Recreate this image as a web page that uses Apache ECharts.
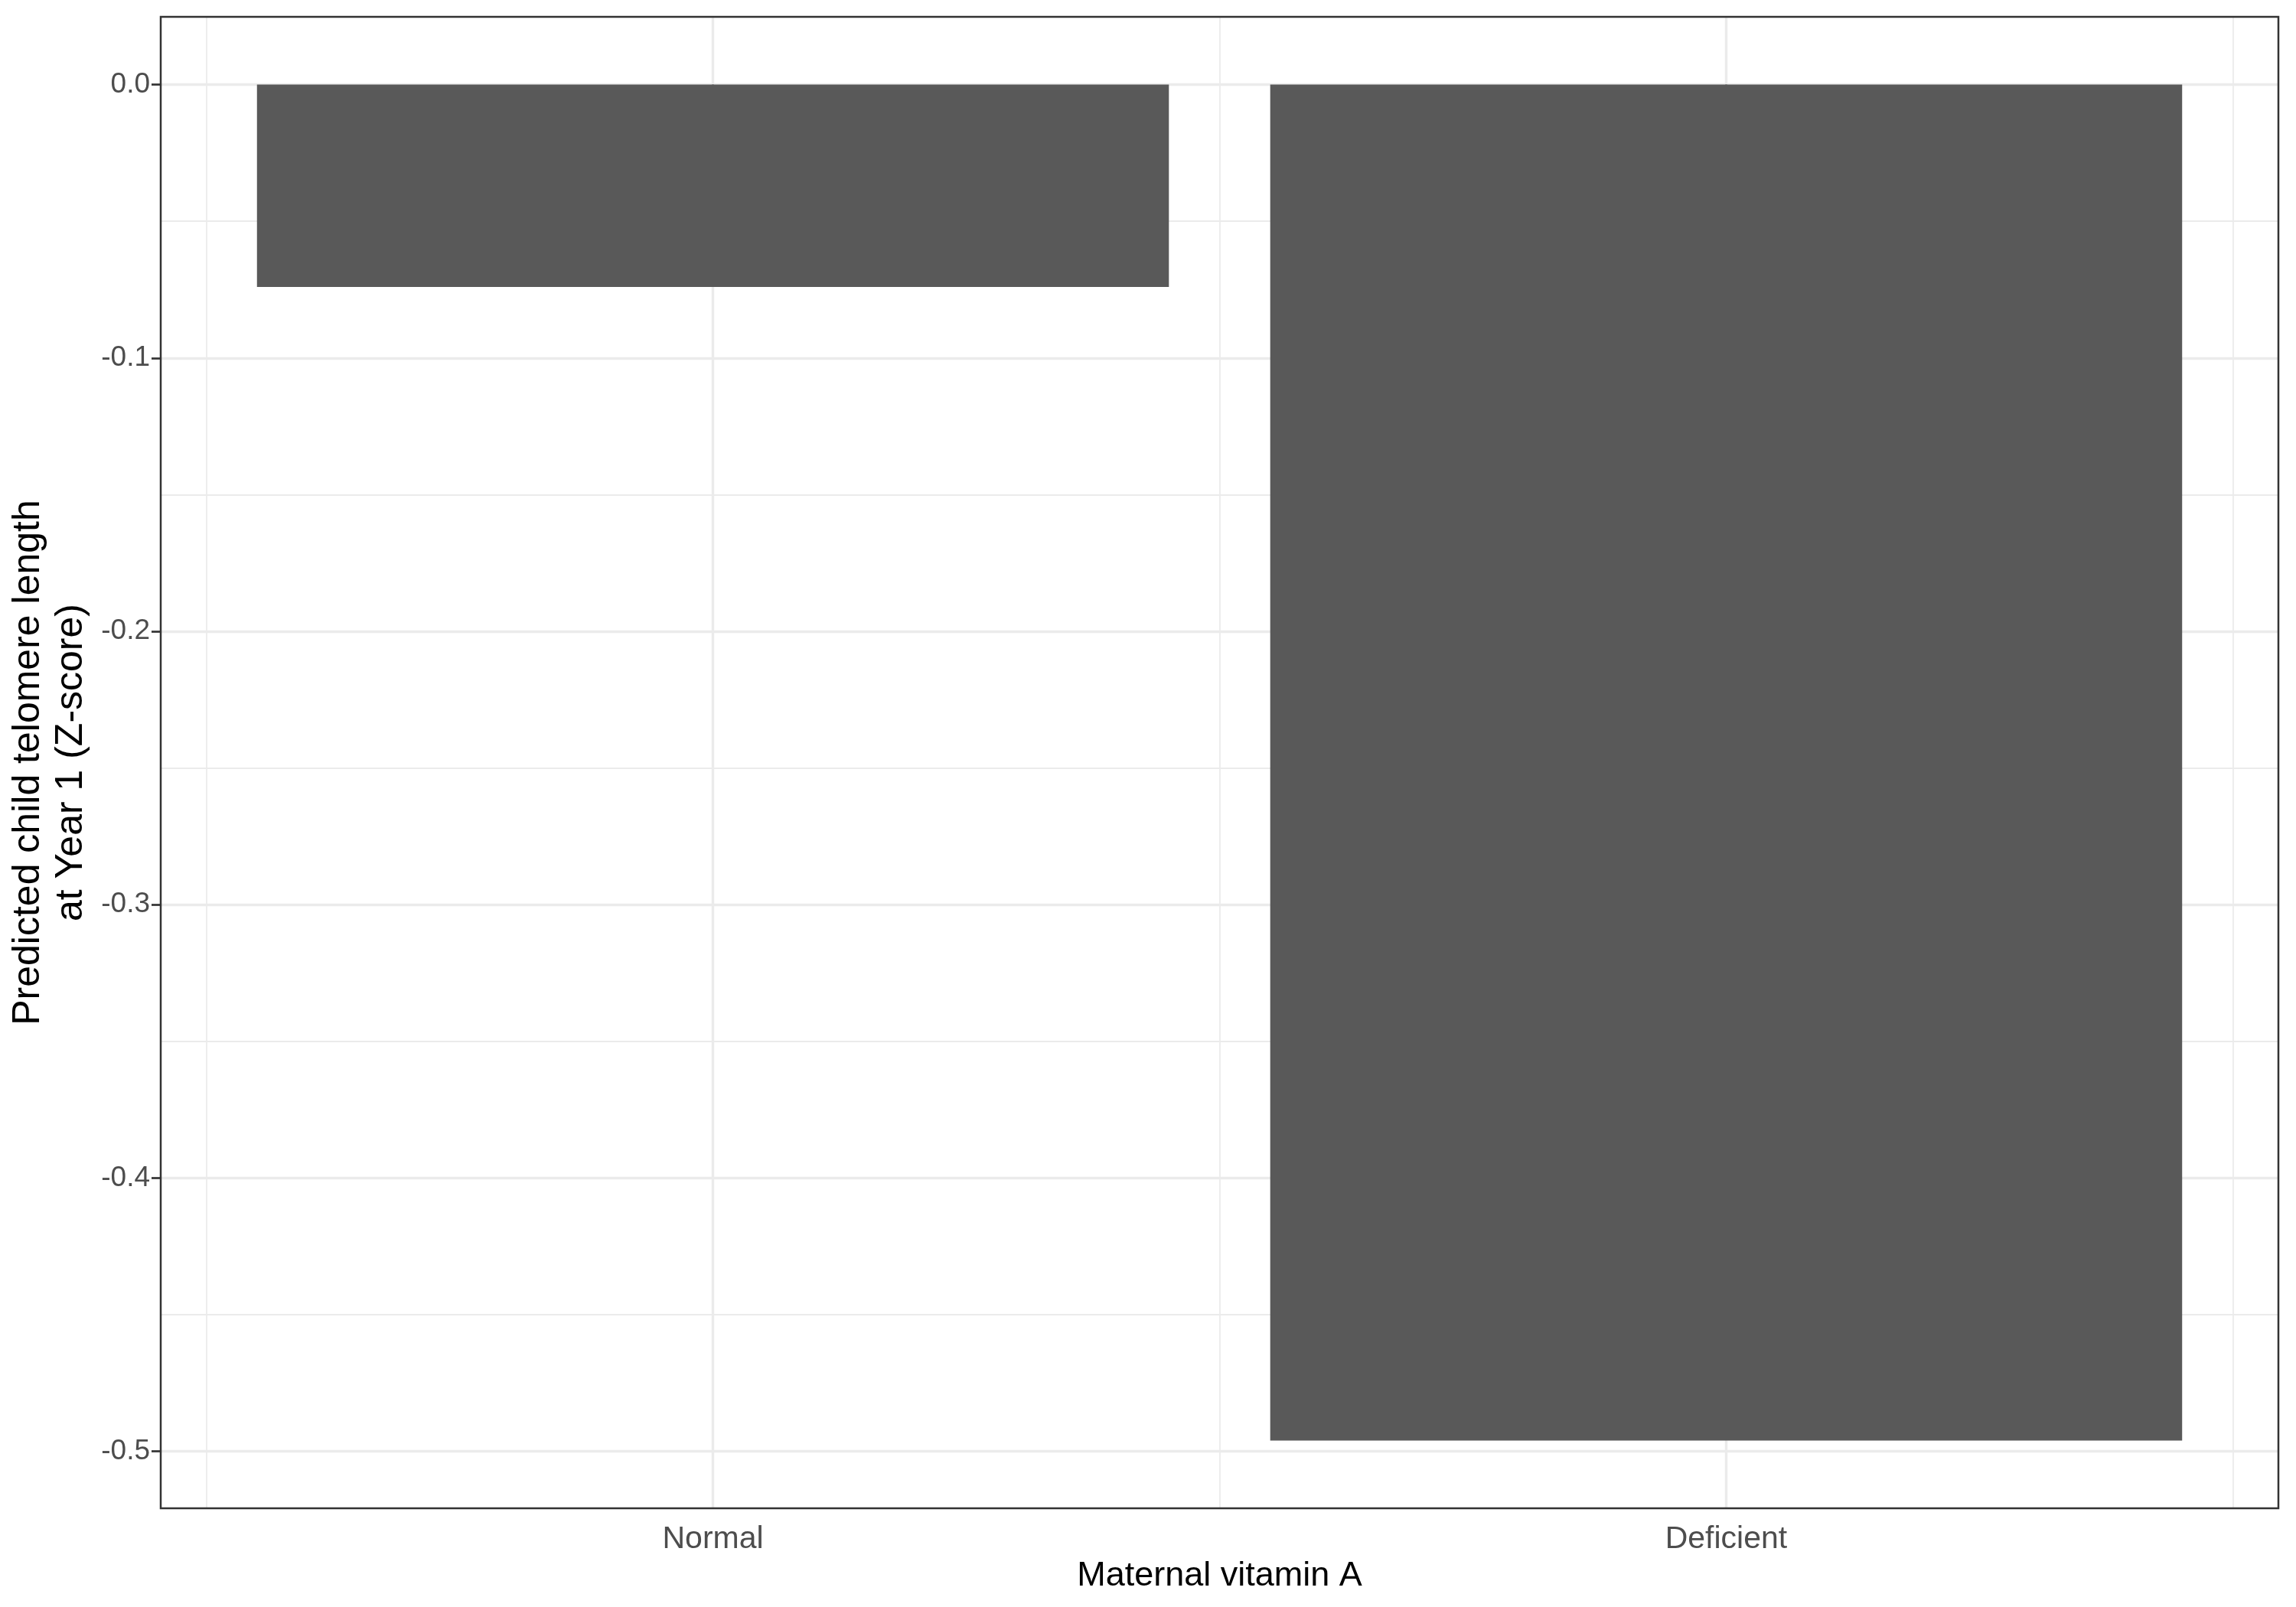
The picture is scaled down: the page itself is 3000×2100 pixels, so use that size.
<!DOCTYPE html>
<html>
<head>
<meta charset="utf-8">
<title>Predicted child telomere length by maternal vitamin A</title>
<script src="https://cdn.jsdelivr.net/npm/echarts@6/dist/echarts.min.js"></script>
<style>
    html, body { margin: 0; padding: 0; background: #ffffff; }
    #telomere_bars { width: 3000px; height: 2100px; }
</style>
</head>
<body>
<div id="telomere_bars"></div>
<script>

// Chart data
// ------------------------------

var categories = ['Normal', 'Deficient'];
var predictedZ = [-0.074, -0.496];
var yTicks = [-0.5, -0.4, -0.3, -0.2, -0.1, 0.0];


// Setup module
// ------------------------------

var TelomereBars = function() {

    var _telomereBarChart = function() {
        if (typeof echarts == 'undefined') {
            console.warn('Warning - echarts.min.js is not loaded.');
            return;
        }

        var element = document.getElementById('telomere_bars');
        if (!element) {
            return;
        }

        var chart = echarts.init(element);

        var fontFamily = '"Liberation Sans", Arial, Helvetica, sans-serif';
        var barWidth = 0.9;          // in category units, like geom_col
        var gridColor = '#ebebeb';
        var darkColor = '#333333';

        // x positions of categories (1, 2, ...)
        var xValues = categories.map(function(c, i) { return i + 1; });

        // ggplot style 5% expansion of both scales
        var yLo = Math.min(0, Math.min.apply(null, predictedZ));
        var yHi = Math.max(0, Math.max.apply(null, predictedZ));
        var ySpan = yHi - yLo;
        var yMin = yLo - 0.05 * ySpan;
        var yMax = yHi + 0.05 * ySpan;

        var xLo = xValues[0] - barWidth / 2;
        var xHi = xValues[xValues.length - 1] + barWidth / 2;
        var xSpan = xHi - xLo;
        var xMin = xLo - 0.05 * xSpan;
        var xMax = xHi + 0.05 * xSpan;

        var seriesData = xValues.map(function(x, i) { return [x, predictedZ[i]]; });

        chart.setOption({
            animation: false,
            backgroundColor: '#ffffff',

            textStyle: {
                fontFamily: fontFamily
            },

            grid: {
                left: 210,
                right: 23,
                top: 22,
                bottom: 129,
                containLabel: false
            },

            xAxis: [{
                type: 'value',
                min: xMin,
                max: xMax,
                splitNumber: 2,
                name: 'Maternal vitamin A',
                nameLocation: 'middle',
                nameGap: 50,
                nameTextStyle: {
                    color: '#000000',
                    fontSize: 45,
                    lineHeight: 45,
                    fontFamily: fontFamily
                },
                axisLine: { show: false },
                axisTick: {
                    show: true,
                    customValues: xValues,
                    length: 12,
                    lineStyle: { color: darkColor, width: 2.7 }
                },
                axisLabel: {
                    customValues: xValues,
                    margin: 20,
                    color: '#4d4d4d',
                    fontSize: 41,
                    fontFamily: fontFamily,
                    formatter: function(v) {
                        return categories[Math.round(v) - 1] || '';
                    }
                },
                splitLine: {
                    show: true,
                    lineStyle: { color: gridColor, width: 3.4 }
                },
                minorTick: {
                    show: false,
                    splitNumber: 2
                },
                minorSplitLine: {
                    show: true,
                    lineStyle: { color: gridColor, width: 1.8 }
                }
            }],

            yAxis: [{
                type: 'value',
                min: yMin,
                max: yMax,
                splitNumber: 5,
                name: 'Predicted child telomere length\nat Year 1 (Z-score)',
                nameLocation: 'middle',
                nameGap: 71,
                nameTextStyle: {
                    color: '#000000',
                    fontSize: 50,
                    lineHeight: 56,
                    align: 'center',
                    fontFamily: fontFamily
                },
                axisLine: { show: false },
                axisTick: {
                    show: true,
                    customValues: yTicks,
                    length: 12,
                    lineStyle: { color: darkColor, width: 2.7 }
                },
                axisLabel: {
                    customValues: yTicks,
                    margin: 14,
                    color: '#4d4d4d',
                    fontSize: 37,
                    fontFamily: fontFamily,
                    formatter: function(v) {
                        return v.toFixed(1);
                    }
                },
                splitLine: {
                    show: true,
                    lineStyle: { color: gridColor, width: 3.4 }
                },
                minorTick: {
                    show: false,
                    splitNumber: 2
                },
                minorSplitLine: {
                    show: true,
                    lineStyle: { color: gridColor, width: 1.8 }
                }
            }],

            series: [{
                name: 'Predicted Z-score',
                type: 'custom',
                encode: { x: 0, y: 1 },
                data: seriesData,
                z: 5,
                renderItem: function(params, api) {
                    var x = api.value(0);
                    var y = api.value(1);
                    var p0 = api.coord([x - barWidth / 2, 0]);
                    var p1 = api.coord([x + barWidth / 2, y]);
                    return {
                        type: 'rect',
                        shape: {
                            x: p0[0],
                            y: Math.min(p0[1], p1[1]),
                            width: p1[0] - p0[0],
                            height: Math.abs(p1[1] - p0[1])
                        },
                        style: { fill: '#595959' }
                    };
                }
            }]
        });

        // Panel border on top of the grid lines
        var tl = chart.convertToPixel({ gridIndex: 0 }, [xMin, yMax]);
        var br = chart.convertToPixel({ gridIndex: 0 }, [xMax, yMin]);
        chart.setOption({
            graphic: [{
                type: 'rect',
                z: 100,
                silent: true,
                shape: {
                    x: tl[0],
                    y: tl[1],
                    width: br[0] - tl[0],
                    height: br[1] - tl[1]
                },
                style: {
                    fill: 'none',
                    stroke: darkColor,
                    lineWidth: 2.5
                }
            }]
        });
    };

    return {
        init: function() {
            _telomereBarChart();
        }
    }
}();


// Initialize module
// ------------------------------

document.addEventListener('DOMContentLoaded', function() {
    TelomereBars.init();
});
</script>
</body>
</html>
